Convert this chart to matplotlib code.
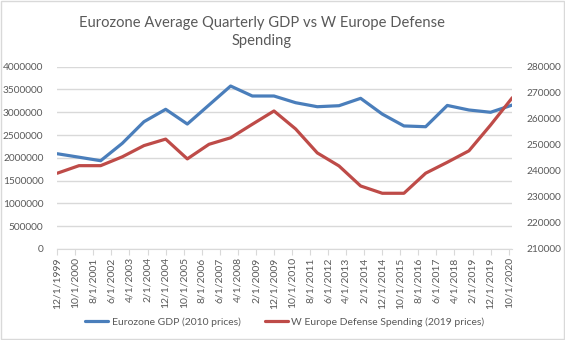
import numpy as np
import pandas as pd
import matplotlib.pyplot as plt
from matplotlib.patches import Rectangle

plt.rcParams['font.family'] = ['Lato', 'DejaVu Sans']

# yearly values, taken every December
years = list(range(1999, 2021))
gdp = [2090000, 2014000, 1937000, 2319000, 2793000, 3065000, 2742000, 3159000,
       3576000, 3357000, 3357000, 3210000, 3122000, 3144000, 3306000, 2960000,
       2700000, 2683000, 3150000, 3050000, 3000000, 3159000]
defense = [239100, 242000, 242000, 245400, 249700, 252200, 244600, 250200,
           252700, 257900, 263000, 256100, 246900, 241900, 234200, 231400,
           231400, 239100, 243300, 247700, 257600, 268100]

tick_labels = ['12/1/1999', '10/1/2000', '8/1/2001', '6/1/2002', '4/1/2003',
               '2/1/2004', '12/1/2004', '10/1/2005', '8/1/2006', '6/1/2007',
               '4/1/2008', '2/1/2009', '12/1/2009', '10/1/2010', '8/1/2011',
               '6/1/2012', '4/1/2013', '2/1/2014', '12/1/2014', '10/1/2015',
               '8/1/2016', '6/1/2017', '4/1/2018', '2/1/2019', '12/1/2019',
               '10/1/2020']

dates = pd.to_datetime([f'12/1/{y}' for y in years], format='%m/%d/%Y')
tick_dates = pd.to_datetime(tick_labels, format='%m/%d/%Y')

blue = '#4a7ebb'
red = '#be4b48'
grey_txt = '#595959'
grid_c = '#d9d9d9'

fig = plt.figure(figsize=(5.65, 3.4), dpi=100)
fig.patches.append(Rectangle((0.001, 0.002), 0.997, 0.995, transform=fig.transFigure,
                             fill=False, edgecolor=grid_c, linewidth=1))

ax = fig.add_axes([57.3 / 565, 91 / 340, 455 / 565, 182.3 / 340])
ax2 = ax.twinx()

l1, = ax.plot(dates, gdp, color=blue, lw=2.3, solid_capstyle='round',
              label='Eurozone GDP (2010 prices)')
l2, = ax2.plot(dates, defense, color=red, lw=2.3, solid_capstyle='round',
               label='W Europe Defense Spending (2019 prices)')

ax.set_xlim(dates[0], dates[-1])
ax.set_ylim(0, 4000000)
ax.set_yticks(np.arange(0, 4000001, 500000))
ax.set_yticklabels([f'{v}' for v in range(0, 4000001, 500000)])
ax2.set_ylim(210000, 280000)
ax2.set_yticks(np.arange(210000, 280001, 10000))
ax2.set_yticklabels([f'{v}' for v in range(210000, 280001, 10000)])

ax.set_xticks(tick_dates)
ax.set_xticklabels(tick_labels, rotation=90)

ax.grid(axis='y', color=grid_c, lw=1)
ax.set_axisbelow(True)
for a in (ax, ax2):
    for s in a.spines.values():
        s.set_visible(False)
ax.spines['bottom'].set_visible(True)
ax.spines['bottom'].set_color(grid_c)

ax.tick_params(axis='y', length=0, pad=10, labelsize=7.3, labelcolor=grey_txt)
ax2.tick_params(axis='y', length=0, pad=10, labelsize=7.3, labelcolor=grey_txt)
ax.tick_params(axis='x', length=4, color=grid_c, pad=2, labelsize=7.5,
               labelcolor=grey_txt)

fig.text(262 / 565, 1 - 32 / 340, 'Eurozone Average Quarterly GDP vs W Europe Defense\nSpending',
         ha='center', va='center', fontsize=10.6, color=grey_txt, linespacing=1.45)

fig.legend(handles=[l1, l2], loc='center', bbox_to_anchor=(285 / 565, 1 - 322 / 340),
           ncol=2, frameon=False, fontsize=7.5, handlelength=2.2, columnspacing=2.4,
           handletextpad=0.3, labelcolor=grey_txt)

fig.savefig('out.png', dpi=100)
